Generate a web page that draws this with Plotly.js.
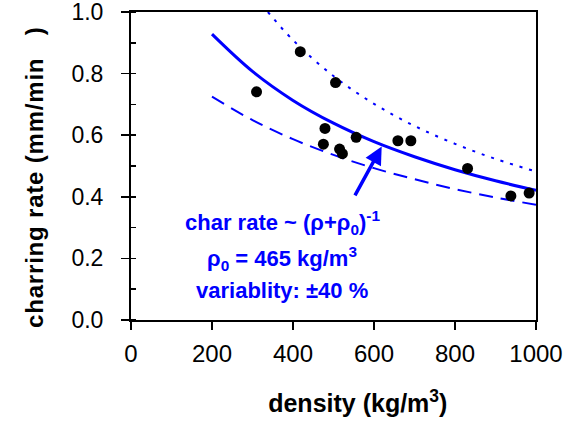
<!DOCTYPE html>
<html>
<head>
<meta charset="utf-8">
<script src="https://cdn.plot.ly/plotly-3.0.1.min.js"></script>
<style>
html,body{margin:0;padding:0;background:#fff;}
#chart{width:564px;height:425px;}
#chart .ytitle{letter-spacing:0.8px;}
</style>
</head>
<body>
<div id="chart"></div>
<script>
// measured data points
const densityPts = [310, 418, 505, 479, 475, 515, 522, 556, 659, 691, 831, 938, 983];
const ratePts    = [0.741, 0.871, 0.771, 0.622, 0.571, 0.555, 0.540, 0.593, 0.582, 0.582, 0.492, 0.403, 0.412];

// model curve (rho0 = 465)
const fitX = [200, 300, 400, 500, 600, 700, 800, 900, 1000];
const fitY = [0.928, 0.807, 0.713, 0.639, 0.579, 0.530, 0.488, 0.452, 0.421];

// upper bound (dotted)
const upX = [338, 400, 500, 600, 700, 800, 900, 1000];
const upY = [1.000, 0.909, 0.792, 0.702, 0.630, 0.572, 0.523, 0.482];

// lower bound (dashed)
const loX = [200, 300, 400, 500, 600, 700, 800, 900, 1000];
const loY = [0.725, 0.649, 0.587, 0.536, 0.493, 0.457, 0.425, 0.398, 0.374];

const xTicks = [0, 200, 400, 600, 800, 1000];
const yTicks = [0.0, 0.2, 0.4, 0.6, 0.8, 1.0];
const yTickText = ['0.0', '0.2', '0.4', '0.6', '0.8', '1.0'];

const BLUE = 'rgb(0,0,255)';
const FONT = 'Liberation Sans, Arial, sans-serif';
const NB = '\u00a0';

const traces = [
  {x: upX, y: upY, mode: 'lines', line: {color: BLUE, width: 2, dash: '3px,7px', shape: 'spline'}, hoverinfo: 'skip'},
  {x: loX, y: loY, mode: 'lines', line: {color: BLUE, width: 2, dash: '14px,8px', shape: 'spline'}, hoverinfo: 'skip'},
  {x: fitX, y: fitY, mode: 'lines', line: {color: BLUE, width: 3, shape: 'spline'}, hoverinfo: 'skip'},
  {x: densityPts, y: ratePts, mode: 'markers', marker: {color: 'black', size: 11}, cliponaxis: false}
];

const layout = {
  width: 564, height: 425,
  margin: {l: 131, r: 28, t: 12, b: 105},
  showlegend: false,
  paper_bgcolor: 'white', plot_bgcolor: 'white',
  font: {family: FONT, color: 'black', size: 23},
  xaxis: {
    range: [0, 1000], tickvals: xTicks, ticks: 'outside', ticklen: 8, tickwidth: 1.5, tickcolor: 'black',
    showline: true, linecolor: 'black', linewidth: 2, mirror: true, showgrid: false, zeroline: false,
    tickfont: {size: 24, family: FONT}, ticklabelstandoff: 3, automargin: false, ticklabeloverflow: 'allow',
    title: {text: '<b>' + NB.repeat(7) + 'density (kg/m<sup>3</sup>)</b>', font: {size: 25, family: FONT}, standoff: 29}
  },
  yaxis: {
    range: [0, 1.0], tickvals: yTicks, ticktext: yTickText, ticks: 'outside', ticklen: 8, tickwidth: 1.5, tickcolor: 'black',
    showline: true, linecolor: 'black', linewidth: 2, mirror: true, showgrid: false, zeroline: false,
    tickfont: {size: 23, family: FONT}, ticklabelstandoff: 13, automargin: false, ticklabeloverflow: 'allow',
    minor: {dtick: 0.1, ticks: 'inside', ticklen: 5, tickwidth: 1.5, tickcolor: 'black', showgrid: false},
    title: {text: '<b>charring rate (mm/min' + NB.repeat(3) + ')' + NB.repeat(3) + '</b>', font: {size: 24, family: FONT}, standoff: 21}
  },
  yaxis2: {
    range: [0, 1.0], overlaying: 'y', anchor: 'x', side: 'left', tickvals: yTicks,
    ticks: 'inside', ticklen: 8, tickwidth: 1.5, tickcolor: 'black', showticklabels: false,
    showline: false, showgrid: false, zeroline: false
  },
  annotations: [
    {x: 619, y: 0.563, ax: 551, ay: 0.400, axref: 'x', ayref: 'y', xref: 'x', yref: 'y', text: '',
     showarrow: true, arrowhead: 2, arrowsize: 1, arrowwidth: 3.5, arrowcolor: BLUE},
    {x: 373, y: 0.318, xref: 'x', yref: 'y', showarrow: false, xanchor: 'center', yanchor: 'middle',
     text: '<b>char rate ~ (ρ+ρ<sub>0</sub>)<sup>-1</sup></b>', font: {size: 22, color: BLUE, family: FONT}},
    {x: 373, y: 0.201, xref: 'x', yref: 'y', showarrow: false, xanchor: 'center', yanchor: 'middle',
     text: '<b>ρ<sub>0</sub> = 465 kg/m<sup>3</sup></b>', font: {size: 22, color: BLUE, family: FONT}},
    {x: 373, y: 0.097, xref: 'x', yref: 'y', showarrow: false, xanchor: 'center', yanchor: 'middle',
     text: '<b>variablity: ±40 %</b>', font: {size: 22, color: BLUE, family: FONT}}
  ]
};

Plotly.newPlot('chart', traces, layout, {staticPlot: true, displayModeBar: false});
</script>
</body>
</html>
